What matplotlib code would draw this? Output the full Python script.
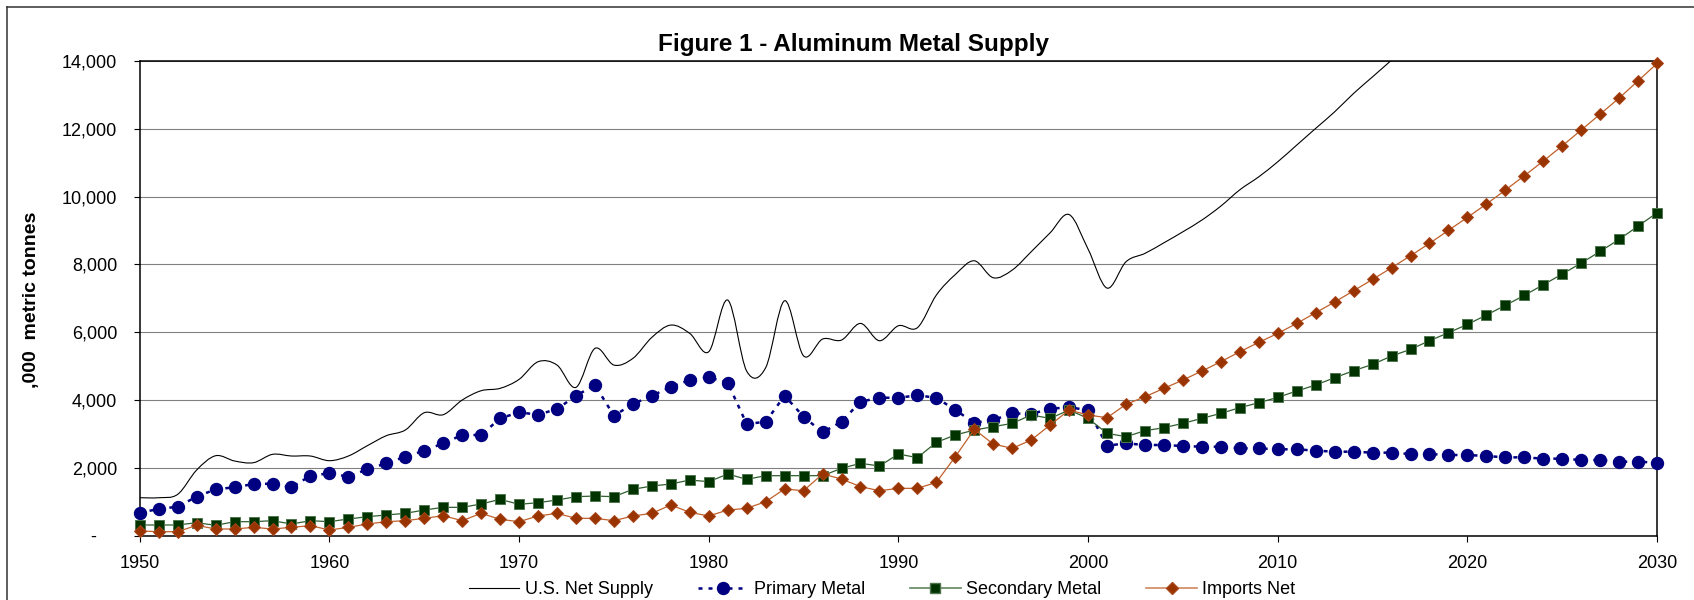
import numpy as np
import matplotlib
matplotlib.use('Agg')
import matplotlib.pyplot as plt
from matplotlib.path import Path
from matplotlib.patches import PathPatch, Rectangle
from matplotlib.lines import Line2D
from matplotlib.transforms import ScaledTranslation

plt.rcParams['font.family'] = ['Liberation Sans', 'DejaVu Sans']

# ---- data (thousand metric tonnes) ----
years = np.arange(1950, 2031)

primary = [673, 782, 850, 1145, 1363, 1422, 1519, 1528, 1422, 1764,
           1835, 1735, 1953, 2130, 2325, 2502, 2719, 2965, 2965, 3457,
           3634, 3564, 3732, 4124, 4440, 3535, 3879, 4124, 4381, 4587,
           4666, 4508, 3289, 3357, 4124, 3505, 3044, 3357, 3947, 4065,
           4065, 4135, 4065, 3702, 3327, 3407, 3604, 3584, 3741, 3781,
           3702, 2650, 2719, 2670, 2670, 2640, 2620, 2620, 2572, 2570,
           2543, 2543, 2503, 2473, 2473, 2444, 2444, 2404, 2404, 2375,
           2375, 2345, 2306, 2306, 2267, 2267, 2227, 2227, 2178, 2178, 2148]

secondary = [310, 310, 310, 378, 300, 408, 408, 437, 339, 437,
             408, 487, 555, 605, 654, 752, 831, 831, 929, 1067,
             920, 968, 1047, 1145, 1165, 1145, 1363, 1460, 1519, 1637,
             1588, 1814, 1657, 1765, 1765, 1765, 1765, 1981, 2130, 2050,
             2404, 2296, 2749, 2965, 3112, 3210, 3309, 3555, 3456, 3702,
             3456, 3014, 2916, 3092, 3181, 3309, 3456, 3604, 3771, 3918,
             4076, 4263, 4440, 4656, 4862, 5049, 5295, 5492, 5747, 5983,
             6229, 6504, 6790, 7085, 7398, 7714, 8038, 8383, 8737, 9130, 9522]

imports = [133, 113, 113, 300, 192, 192, 241, 192, 241, 290,
           162, 241, 339, 408, 437, 507, 585, 437, 654, 477,
           408, 576, 654, 507, 507, 437, 576, 654, 900, 683,
           576, 752, 801, 998, 1372, 1322, 1814, 1667, 1441, 1322,
           1391, 1391, 1568, 2325, 3132, 2699, 2572, 2817, 3260, 3702,
           3555, 3475, 3870, 4094, 4342, 4587, 4853, 5127, 5422, 5698,
           5963, 6258, 6573, 6888, 7222, 7556, 7900, 8254, 8619, 9003,
           9386, 9779, 10192, 10614, 11047, 11499, 11962, 12434, 12906, 13416, 13929]

# U.S. net supply is only shown up to where it leaves the chart
net_years = np.arange(1950, 2018)
net_supply = [1115, 1115, 1215, 1932, 2354, 2198, 2149, 2395, 2345, 2345,
              2207, 2345, 2650, 2945, 3112, 3623, 3564, 3997, 4272, 4342,
              4607, 5127, 5029, 4371, 5521, 5029, 5226, 5846, 6209, 5963,
              5422, 6947, 4850, 4950, 6927, 5300, 5796, 5767, 6258, 5747,
              6189, 6131, 7094, 7700, 8106, 7605, 7832, 8372, 8932, 9470,
              8450, 7300, 8077, 8324, 8637, 8962, 9307, 9720, 10200, 10584,
              11027, 11519, 12012, 12501, 13044, 13534, 14027, 14530]

labels = ['U.S. Net Supply', 'Primary Metal', 'Secondary Metal', 'Imports Net']


def smooth_path(x, y):
    # excel style smoothed line: bezier segments through every point
    n = len(x)
    verts = [(x[0], y[0])]
    codes = [Path.MOVETO]
    for i in range(n - 1):
        xa, ya = (x[i - 1], y[i - 1]) if i > 0 else (x[i], y[i])
        xb, yb = (x[i + 2], y[i + 2]) if i + 2 < n else (x[i + 1], y[i + 1])
        c1 = (x[i] + (x[i + 1] - xa) / 6, y[i] + (y[i + 1] - ya) / 6)
        c2 = (x[i + 1] - (xb - x[i]) / 6, y[i + 1] - (yb - y[i]) / 6)
        verts += [c1, c2, (x[i + 1], y[i + 1])]
        codes += [Path.CURVE4] * 3
    return Path(verts, codes)


fig = plt.figure(figsize=(16.94, 6.0), dpi=100)
ax = fig.add_axes([0.0825, 0.1075, 0.8957, 0.7908])

# net supply, smoothed, allowed to poke a little above the plot area
net = PathPatch(smooth_path(net_years, net_supply), fill=False,
                edgecolor='black', lw=0.8, zorder=3)
net.set_clip_path(Rectangle((1949, -1000), 82, 15200, transform=ax.transData))
ax.add_patch(net)

ax.plot(years, primary, color='#000080', lw=1.8, ls=(0, (1.6, 2.4)),
        marker='o', ms=8.6, mfc='#000080', mec='#000080', zorder=4, clip_on=False)
ax.plot(years, secondary, color='#2f5f2f', lw=0.9,
        marker='s', ms=7.0, mfc='#003300', mec='#4f754f', mew=0.7, zorder=5, clip_on=False)
ax.plot(years, imports, color='#c0602a', lw=0.9,
        marker='D', ms=6.3, mfc='#993300', mec='#a8451a', mew=0.7, zorder=6, clip_on=False)

ax.set_xlim(1950, 2030)
ax.set_ylim(0, 14000)
ax.set_xticks(np.arange(1950, 2031, 10))
ax.set_yticks(np.arange(0, 14001, 2000))
ax.set_yticklabels(['-' if v == 0 else '{:,}'.format(v) for v in range(0, 14001, 2000)])
ax.grid(axis='y', color='#808080', lw=0.8)
ax.set_axisbelow(True)
for s in ax.spines.values():
    s.set_color('black')
    s.set_linewidth(1.1)

ax.tick_params(axis='y', direction='out', length=4.3, width=0.8, pad=12, labelsize=13)
ax.tick_params(axis='x', direction='out', length=4.3, width=0.8, pad=10, labelsize=13)
zero_lab = ax.yaxis.get_major_ticks()[0].label1
zero_lab.set_transform(zero_lab.get_transform() + ScaledTranslation(-0.21, 0, fig.dpi_scale_trans))

fig.text(0.504, 1 - 50.7 / 600, 'Figure 1 - Aluminum Metal Supply',
         ha='center', va='baseline', fontsize=17.5, fontweight='bold')
fig.text(32 / 1694, 0.5, ',000  metric tonnes', rotation=90,
         ha='center', va='center', fontsize=14, fontweight='bold')

handles = [Line2D([], [], color='black', lw=0.8),
           Line2D([], [], color='#000080', lw=1.8, ls=(0, (1.6, 2.4)),
                  marker='o', ms=8.6, mfc='#000080', mec='#000080'),
           Line2D([], [], color='#5f855f', lw=1.2, marker='s', ms=7.0,
                  mfc='#003300', mec='#4f754f'),
           Line2D([], [], color='#d08860', lw=1.2, marker='D', ms=6.3,
                  mfc='#993300', mec='#a8451a')]
fig.legend(handles, labels, loc='center', bbox_to_anchor=(882 / 1694, 1 - 590 / 600),
           ncol=4, frameon=False, fontsize=13, handlelength=2.8,
           handletextpad=0.3, columnspacing=2.5, numpoints=1)

# outer chart border (left and top visible in the crop)
fig.add_artist(Line2D([7 / 1694, 7 / 1694], [0, 1 - 7 / 600],
                      transform=fig.transFigure, color='#333333', lw=1.1))
fig.add_artist(Line2D([7 / 1694, 1], [1 - 7 / 600, 1 - 7 / 600],
                      transform=fig.transFigure, color='#333333', lw=1.1))

fig.savefig('out.png', dpi=100)
